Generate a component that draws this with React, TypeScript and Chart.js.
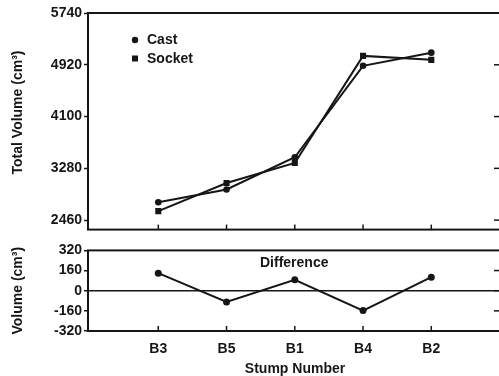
import React, { useEffect, useRef } from 'react';
import { Chart, registerables } from 'chart.js';

Chart.register(...registerables);

// ---- data ----
const categories = ['B3', 'B5', 'B1', 'B4', 'B2'];
const castVolume = [2743, 2945, 3456, 4904, 5112];
const socketVolume = [2602, 3048, 3366, 5061, 4998];
const difference = [139, -90, 87, -158, 107];
const totalTicks = [2460, 3280, 4100, 4920, 5740];
const diffTicks = [-320, -160, 0, 160, 320];

const INK = '#161616';
const FONT = '"Liberation Sans", Arial, Helvetica, sans-serif';
const font14 = { family: FONT, size: 14, weight: 'bold' as const };

const toPoints = (vals: number[]) => vals.map((v, i) => ({ x: i + 1, y: v }));

const xScale = (display: boolean) => ({
  type: 'linear' as const,
  min: -0.03,
  max: 6.036,
  display,
  afterBuildTicks: (s: any) => {
    s.ticks = categories.map((_, i) => ({ value: i + 1 }));
  },
  afterFit: (s: any) => {
    if (display) s.height = 47;
  },
  ticks: {
    callback: (v: any) => categories[Math.round(Number(v)) - 1] ?? '',
    font: font14,
    color: INK,
    padding: 10,
    maxRotation: 0,
    autoSkip: false,
  },
  grid: { display: false, drawTicks: false },
  border: { display: false },
  title: {
    display,
    text: 'Stump Number',
    font: font14,
    color: INK,
    padding: { top: 0, bottom: 0 },
  },
});

function line(ctx: CanvasRenderingContext2D, x1: number, y1: number, x2: number, y2: number) {
  ctx.beginPath();
  ctx.moveTo(x1, y1);
  ctx.lineTo(x2, y2);
  ctx.stroke();
}

const framePlugin = {
  id: 'frameTicks',
  afterDraw(chart: any) {
    const { ctx, chartArea: a, scales } = chart;
    ctx.save();
    ctx.strokeStyle = INK;
    ctx.lineWidth = 2;
    ctx.strokeRect(a.left, a.top, a.right - a.left, a.bottom - a.top);
    ctx.lineWidth = 1.5;
    const xs = scales.x;
    xs.ticks.forEach((t: any) => {
      const px = xs.getPixelForValue(t.value);
      line(ctx, px, a.bottom, px, a.bottom - 5);
    });
    const ys = scales.y;
    ys.ticks.forEach((t: any) => {
      const py = ys.getPixelForValue(t.value);
      if (py > a.top + 2 && py < a.bottom - 2) line(ctx, a.right, py, a.right - 8, py);
    });
    ctx.restore();
  },
};

const legendPlugin = {
  id: 'innerLegend',
  afterDraw(chart: any) {
    const { ctx, chartArea: a } = chart;
    ctx.save();
    ctx.fillStyle = INK;
    ctx.font = `bold 14px ${FONT}`;
    ctx.textBaseline = 'middle';
    ctx.textAlign = 'left';
    chart.data.datasets.forEach((ds: any, i: number) => {
      const cx = a.left + 47;
      const cy = a.top + 27 + i * 18.5;
      if (ds.pointStyle === 'rect') {
        ctx.fillRect(cx - 3, cy - 3, 6, 6);
      } else {
        ctx.beginPath();
        ctx.arc(cx, cy, 3.2, 0, Math.PI * 2);
        ctx.fill();
      }
      ctx.fillText(ds.label, cx + 12, cy + 0.5);
    });
    // y-axis title of the upper panel
    ctx.translate(18.4, 112.5);
    ctx.rotate(-Math.PI / 2);
    ctx.textAlign = 'center';
    ctx.fillText('Total Volume (cm³)', 0, 0);
    ctx.restore();
  },
};

const diffLabelPlugin = {
  id: 'diffLabel',
  afterDraw(chart: any) {
    const { ctx, chartArea: a } = chart;
    ctx.save();
    ctx.fillStyle = INK;
    ctx.font = `bold 14px ${FONT}`;
    ctx.textBaseline = 'middle';
    ctx.textAlign = 'left';
    ctx.fillText('Difference', a.left + 172, a.top + 13);
    ctx.restore();
  },
};

export default function App() {
  const topRef = useRef<HTMLCanvasElement>(null);
  const botRef = useRef<HTMLCanvasElement>(null);

  useEffect(() => {
    const top = new Chart(topRef.current as HTMLCanvasElement, {
      type: 'line',
      data: {
        datasets: [
          {
            label: 'Cast',
            data: toPoints(castVolume),
            borderColor: INK,
            backgroundColor: INK,
            borderWidth: 2,
            pointStyle: 'circle',
            pointRadius: 3.3,
            pointBackgroundColor: INK,
            pointBorderWidth: 0,
            tension: 0,
          },
          {
            label: 'Socket',
            data: toPoints(socketVolume),
            borderColor: INK,
            backgroundColor: INK,
            borderWidth: 2,
            pointStyle: 'rect',
            pointRadius: 4.3,
            pointBackgroundColor: INK,
            pointBorderWidth: 0,
            tension: 0,
          },
        ],
      },
      options: {
        responsive: false,
        animation: false,
        devicePixelRatio: 1,
        layout: { padding: { left: 0, top: 13, right: 18, bottom: 8 } },
        plugins: { legend: { display: false }, tooltip: { enabled: false } },
        scales: {
          x: xScale(false) as any,
          y: {
            min: 2310,
            max: 5740,
            afterBuildTicks: (s: any) => {
              s.ticks = totalTicks.map((v) => ({ value: v }));
            },
            afterFit: (s: any) => {
              s.width = 88;
            },
            ticks: { font: font14, color: INK, padding: 2, callback: (v: any) => String(v) },
            grid: {
              display: true,
              drawOnChartArea: false,
              drawTicks: true,
              tickLength: 4,
              tickColor: INK,
              tickWidth: 1.5,
            },
            border: { display: false },
            title: { display: false },
          } as any,
        },
      },
      plugins: [framePlugin, legendPlugin],
    });

    const bot = new Chart(botRef.current as HTMLCanvasElement, {
      type: 'line',
      data: {
        datasets: [
          {
            label: 'Difference',
            data: toPoints(difference),
            borderColor: INK,
            backgroundColor: INK,
            borderWidth: 2,
            pointStyle: 'circle',
            pointRadius: 3.5,
            pointBackgroundColor: INK,
            pointBorderWidth: 0,
            tension: 0,
          },
        ],
      },
      options: {
        responsive: false,
        animation: false,
        devicePixelRatio: 1,
        layout: { padding: { left: 0, top: 8, right: 18, bottom: 0 } },
        plugins: { legend: { display: false }, tooltip: { enabled: false } },
        scales: {
          x: xScale(true) as any,
          y: {
            min: -320,
            max: 320,
            afterBuildTicks: (s: any) => {
              s.ticks = diffTicks.map((v) => ({ value: v }));
            },
            afterFit: (s: any) => {
              s.width = 88;
            },
            ticks: { font: font14, color: INK, padding: 2, callback: (v: any) => String(v) },
            grid: {
              display: true,
              drawOnChartArea: true,
              drawTicks: true,
              tickLength: 4,
              color: (c: any) => (c.tick && c.tick.value === 0 ? INK : 'rgba(0,0,0,0)'),
              lineWidth: 1.5,
              tickColor: INK,
              tickWidth: 1.5,
            },
            border: { display: false },
            title: {
              display: true,
              text: 'Volume (cm³)',
              font: font14,
              color: INK,
              padding: { top: 10, bottom: 0 },
            },
          } as any,
        },
      },
      plugins: [framePlugin, diffLabelPlugin],
    });

    return () => {
      top.destroy();
      bot.destroy();
    };
  }, []);

  return (
    <div
      style={{
        position: 'absolute',
        left: 0,
        top: 0,
        width: 499,
        height: 376,
        overflow: 'hidden',
        background: '#ffffff',
      }}
    >
      <canvas ref={topRef} width={520} height={240} style={{ position: 'absolute', left: 0, top: 0 }} />
      <canvas ref={botRef} width={520} height={138} style={{ position: 'absolute', left: 0, top: 240 }} />
    </div>
  );
}
